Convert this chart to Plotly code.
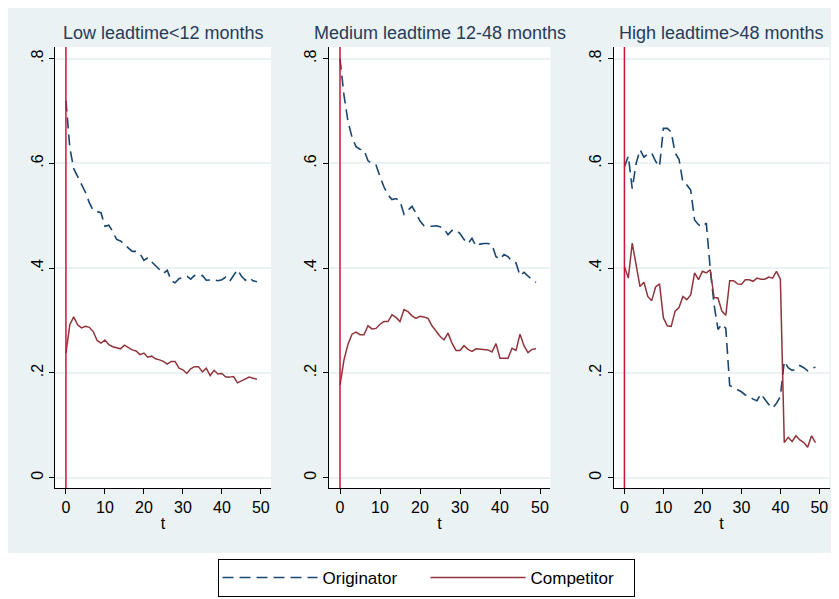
import plotly.graph_objects as go

T = list(range(50))

PANEL_TITLES = ["Low leadtime<12 months", "Medium leadtime 12-48 months", "High leadtime>48 months"]
SERIES_NAMES = ["Originator", "Competitor"]
X_TICKS = [0, 10, 20, 30, 40, 50]
Y_TICKS = [0, 0.2, 0.4, 0.6, 0.8]
Y_TICK_TEXT = ["0", ".2", ".4", ".6", ".8"]
XLINE = 0

low_orig = [0.720, 0.630, 0.590, 0.575, 0.560, 0.545, 0.525, 0.510, 0.508, 0.506,
            0.480, 0.482, 0.470, 0.455, 0.452, 0.445, 0.438, 0.432, 0.432, 0.428,
            0.415, 0.420, 0.412, 0.405, 0.398, 0.390, 0.396, 0.376, 0.372, 0.380,
            0.382, 0.385, 0.379, 0.386, 0.384, 0.386, 0.377, 0.378, 0.378, 0.376,
            0.378, 0.383, 0.375, 0.386, 0.397, 0.385, 0.377, 0.382, 0.376, 0.374]
low_comp = [0.238, 0.292, 0.307, 0.292, 0.286, 0.289, 0.287, 0.279, 0.262, 0.257,
            0.263, 0.254, 0.250, 0.248, 0.246, 0.253, 0.248, 0.244, 0.242, 0.235,
            0.238, 0.230, 0.232, 0.227, 0.225, 0.222, 0.217, 0.222, 0.222, 0.209,
            0.206, 0.199, 0.208, 0.212, 0.212, 0.202, 0.209, 0.195, 0.205, 0.198,
            0.199, 0.192, 0.192, 0.193, 0.181, 0.185, 0.188, 0.192, 0.190, 0.188]
med_orig = [0.800, 0.730, 0.680, 0.650, 0.632, 0.627, 0.626, 0.605, 0.600, 0.597,
            0.575, 0.555, 0.540, 0.531, 0.533, 0.528, 0.503, 0.510, 0.518, 0.505,
            0.490, 0.481, 0.480, 0.480, 0.481, 0.479, 0.475, 0.464, 0.472, 0.473,
            0.466, 0.455, 0.447, 0.457, 0.442, 0.446, 0.447, 0.447, 0.445, 0.422,
            0.417, 0.426, 0.422, 0.413, 0.410, 0.386, 0.392, 0.384, 0.378, 0.373]
med_comp = [0.177, 0.225, 0.255, 0.274, 0.278, 0.273, 0.273, 0.290, 0.284, 0.285,
            0.293, 0.298, 0.298, 0.311, 0.306, 0.298, 0.321, 0.317, 0.309, 0.304,
            0.308, 0.307, 0.304, 0.290, 0.280, 0.270, 0.263, 0.276, 0.257, 0.243,
            0.243, 0.252, 0.245, 0.241, 0.246, 0.245, 0.244, 0.244, 0.240, 0.256,
            0.228, 0.228, 0.228, 0.247, 0.243, 0.274, 0.252, 0.239, 0.245, 0.246]
high_orig = [0.593, 0.614, 0.552, 0.600, 0.626, 0.612, 0.618, 0.620, 0.604, 0.594,
             0.667, 0.667, 0.660, 0.620, 0.608, 0.564, 0.559, 0.549, 0.492, 0.483,
             0.479, 0.486, 0.400, 0.330, 0.283, 0.293, 0.285, 0.176, 0.172, 0.168,
             0.164, 0.158, 0.155, 0.150, 0.147, 0.160, 0.150, 0.140, 0.133, 0.142,
             0.155, 0.222, 0.210, 0.205, 0.207, 0.214, 0.210, 0.204, 0.209, 0.211]
high_comp = [0.403, 0.381, 0.448, 0.407, 0.365, 0.373, 0.346, 0.338, 0.364, 0.370,
             0.305, 0.290, 0.289, 0.318, 0.325, 0.346, 0.340, 0.349, 0.391, 0.378,
             0.394, 0.391, 0.397, 0.344, 0.343, 0.318, 0.310, 0.376, 0.376, 0.370,
             0.369, 0.378, 0.378, 0.375, 0.381, 0.379, 0.379, 0.383, 0.381, 0.394,
             0.379, 0.067, 0.077, 0.069, 0.080, 0.072, 0.067, 0.058, 0.080, 0.067]

ORIG = [low_orig, med_orig, high_orig]
COMP = [low_comp, med_comp, high_comp]

# The page body has an 8px margin, so the figure is drawn 8px in from the top-left.
OFF = 8
W, H = 839 - OFF, 599 - OFF
NAVY = "#1a476f"
MAROON = "#90353b"
XLINE_COLOR = "#cc1439"
BG = "#eaf2f3"
FONT = "Liberation Sans, Arial, sans-serif"
TITLE_COLOR = "#283a59"


def px_x(p):
    return (p - OFF) / W


def px_y(p):
    return 1 - (p - OFF) / H


# panel pixel extents in page coordinates (left, right)
panels_px = [(55, 271), (328.8, 550.4), (613.5, 829.5)]
y_top_px, y_bot_px = 47, 488

fig = go.Figure()
layout = {}
for i in range(3):
    sfx = "" if i == 0 else str(i + 1)
    xa, ya = "x" + sfx, "y" + sfx
    fig.add_trace(go.Scatter(
        x=T, y=ORIG[i], xaxis=xa, yaxis=ya, mode="lines",
        line=dict(color=NAVY, width=1.6, dash="11px,6px"),
        name=SERIES_NAMES[0], legendgroup="o", showlegend=(i == 0)))
    fig.add_trace(go.Scatter(
        x=T, y=COMP[i], xaxis=xa, yaxis=ya, mode="lines",
        line=dict(color=MAROON, width=1.5),
        name=SERIES_NAMES[1], legendgroup="c", showlegend=(i == 0)))
    l, r = panels_px[i]
    layout["xaxis" + sfx] = dict(
        domain=[px_x(l), px_x(r)], anchor=ya, range=[-2.8, 52.6],
        tickvals=X_TICKS, ticks="outside", ticklen=5, tickwidth=1, tickcolor="#000",
        showline=True, linecolor="#000", linewidth=1, showgrid=False, zeroline=False,
        tickfont=dict(family=FONT, size=16, color="#000"),
        title=dict(text="t", font=dict(family=FONT, size=16, color="#000"), standoff=2),
    )
    layout["yaxis" + sfx] = dict(
        domain=[px_y(y_bot_px), px_y(y_top_px)], anchor=xa, range=[-0.0197, 0.8223],
        tickvals=Y_TICKS, ticktext=Y_TICK_TEXT, tickangle=-90,
        ticks="outside", ticklen=5, tickwidth=1, tickcolor="#000",
        showline=True, linecolor="#000", linewidth=1,
        showgrid=True, gridcolor=BG, gridwidth=1.5, zeroline=False,
        tickfont=dict(family=FONT, size=16, color="#000"),
    )
    fig.add_shape(type="line", xref=xa, yref=ya + " domain", x0=XLINE, x1=XLINE, y0=0, y1=1,
                  line=dict(color=XLINE_COLOR, width=1.5))
    fig.add_annotation(text=PANEL_TITLES[i], xref="paper", yref="paper",
                       x=px_x((l + r) / 2), y=px_y(33), xanchor="center", yanchor="middle",
                       showarrow=False, font=dict(family=FONT, size=18, color=TITLE_COLOR))

# white strips outside the light graph region (bottom legend area, right edge)
fig.add_shape(type="rect", xref="paper", yref="paper", x0=0, x1=1,
              y0=0, y1=px_y(553), fillcolor="white", line=dict(width=0), layer="below")
fig.add_shape(type="rect", xref="paper", yref="paper", x0=px_x(834), x1=1,
              y0=0, y1=1, fillcolor="white", line=dict(width=0), layer="below")

fig.update_layout(
    width=W, height=H, margin=dict(l=0, r=0, t=0, b=0),
    paper_bgcolor=BG, plot_bgcolor="white",
    font=dict(family=FONT, size=16, color="#000"),
    showlegend=True,
    legend=dict(orientation="h", x=px_x(426), xanchor="center", y=px_y(559), yanchor="top",
                bordercolor="#000", borderwidth=1, bgcolor="white",
                font=dict(family=FONT, size=17, color="#000"),
                itemwidth=95, entrywidth=98, tracegroupgap=0),
    **layout,
)

fig.write_html("out.html")
